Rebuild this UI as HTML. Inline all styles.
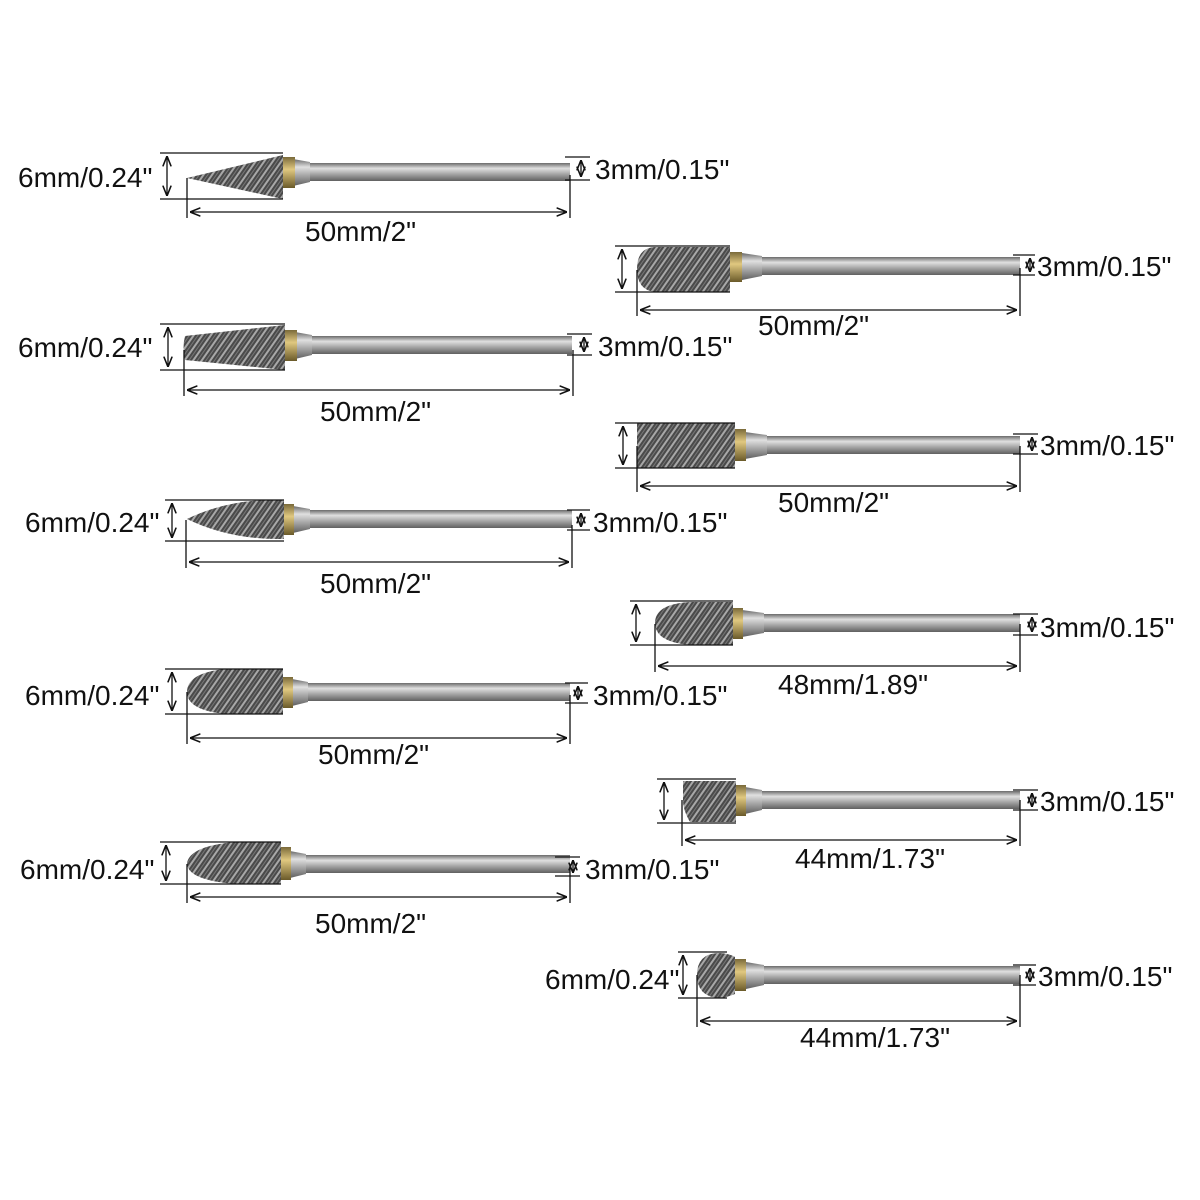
<!DOCTYPE html>
<html><head><meta charset="utf-8"><style>
html,body{margin:0;padding:0;background:#fff;}
svg{display:block}
text{font-family:"Liberation Sans",sans-serif;font-size:28px;fill:#111;}
</style></head><body>
<svg width="1200" height="1200" viewBox="0 0 1200 1200" xmlns="http://www.w3.org/2000/svg">
<defs>
<linearGradient id="sh" x1="0" y1="0" x2="0" y2="1">
<stop offset="0" stop-color="#6a6a6a"/><stop offset="0.3" stop-color="#e0e0e0"/><stop offset="0.6" stop-color="#a8a8a8"/><stop offset="1" stop-color="#606060"/></linearGradient>
<linearGradient id="gd" x1="0" y1="0" x2="0" y2="1">
<stop offset="0" stop-color="#7a6a3a"/><stop offset="0.4" stop-color="#e0c880"/><stop offset="1" stop-color="#6a5a2a"/></linearGradient>
<pattern id="hz" width="7" height="7" patternUnits="userSpaceOnUse" patternTransform="rotate(35)">
<rect width="7" height="7" fill="#4a4a4a"/><rect width="2" height="7" fill="#a8a8a8"/><rect x="4" width="1" height="7" fill="#777"/></pattern>
<marker id="a" viewBox="0 0 10 10" refX="10" refY="5" markerWidth="8" markerHeight="8" orient="auto-start-reverse"><path d="M0,1 L10,5 L0,9" fill="none" stroke="#111" stroke-width="1.5"/></marker>
</defs>

<!-- Burr 1 cone -->
<g>
<rect x="307" y="163" width="263" height="18" fill="url(#sh)"/>
<path d="M293,159 L310,162 L310,182 L293,186Z" fill="url(#sh)"/>
<rect x="283" y="157" width="12" height="31" fill="url(#gd)"/>
<path d="M187,178 L283,155 L283,199 Z" fill="url(#hz)"/>
<g stroke="#111" stroke-width="1.3" fill="none">
<line x1="160" y1="153" x2="283" y2="153"/><line x1="160" y1="199" x2="283" y2="199"/>
<line x1="167" y1="156" x2="167" y2="196" marker-start="url(#a)" marker-end="url(#a)"/>
<line x1="187" y1="178" x2="187" y2="218"/><line x1="570" y1="175" x2="570" y2="218"/>
<line x1="190" y1="212" x2="567" y2="212" marker-start="url(#a)" marker-end="url(#a)"/>
<line x1="565" y1="157" x2="590" y2="157"/><line x1="565" y1="180" x2="590" y2="180"/>
<line x1="581" y1="160" x2="581" y2="177" marker-start="url(#a)" marker-end="url(#a)"/>
</g>
<text x="18" y="187">6mm/0.24"</text><text x="595" y="179">3mm/0.15"</text><text x="305" y="241">50mm/2"</text>
</g>

<!-- Burr 2 taper -->
<g>
<rect x="310" y="336" width="262" height="18" fill="url(#sh)"/>
<path d="M295,332 L312,335 L312,355 L295,359Z" fill="url(#sh)"/>
<rect x="285" y="330" width="12" height="31" fill="url(#gd)"/>
<path d="M185,336 L285,325 L285,370 L185,360 Q182,348 185,336Z" fill="url(#hz)"/>
<g stroke="#111" stroke-width="1.3" fill="none">
<line x1="160" y1="324" x2="285" y2="324"/><line x1="160" y1="370" x2="285" y2="370"/>
<line x1="168" y1="327" x2="168" y2="367" marker-start="url(#a)" marker-end="url(#a)"/>
<line x1="184" y1="350" x2="184" y2="396"/><line x1="573" y1="350" x2="573" y2="396"/>
<line x1="187" y1="390" x2="570" y2="390" marker-start="url(#a)" marker-end="url(#a)"/>
<line x1="567" y1="334" x2="592" y2="334"/><line x1="567" y1="355" x2="592" y2="355"/>
<line x1="584" y1="337" x2="584" y2="352" marker-start="url(#a)" marker-end="url(#a)"/>
</g>
<text x="18" y="357">6mm/0.24"</text><text x="598" y="356">3mm/0.15"</text><text x="320" y="421">50mm/2"</text>
</g>

<!-- Burr 3 flame -->
<g>
<rect x="308" y="510" width="264" height="18" fill="url(#sh)"/>
<path d="M293,506 L310,509 L310,529 L293,533Z" fill="url(#sh)"/>
<rect x="284" y="504" width="10" height="31" fill="url(#gd)"/>
<path d="M187,519 Q230,498 284,500 L284,539 Q230,540 187,519Z" fill="url(#hz)"/>
<g stroke="#111" stroke-width="1.3" fill="none">
<line x1="165" y1="500" x2="284" y2="500"/><line x1="165" y1="541" x2="284" y2="541"/>
<line x1="172" y1="503" x2="172" y2="538" marker-start="url(#a)" marker-end="url(#a)"/>
<line x1="186" y1="520" x2="186" y2="568"/><line x1="572" y1="525" x2="572" y2="568"/>
<line x1="189" y1="562" x2="569" y2="562" marker-start="url(#a)" marker-end="url(#a)"/>
<line x1="567" y1="510" x2="590" y2="510"/><line x1="567" y1="530" x2="590" y2="530"/>
<line x1="581" y1="513" x2="581" y2="527" marker-start="url(#a)" marker-end="url(#a)"/>
</g>
<text x="25" y="532">6mm/0.24"</text><text x="593" y="532">3mm/0.15"</text><text x="320" y="593">50mm/2"</text>
</g>

<!-- Burr 4 oval -->
<g>
<rect x="306" y="683" width="264" height="18" fill="url(#sh)"/>
<path d="M292,679 L308,682 L308,702 L292,706Z" fill="url(#sh)"/>
<rect x="283" y="677" width="10" height="31" fill="url(#gd)"/>
<path d="M283,669 L283,714 L225,714 Q187,710 187,692 Q187,673 225,669Z" fill="url(#hz)"/>
<g stroke="#111" stroke-width="1.3" fill="none">
<line x1="165" y1="669" x2="283" y2="669"/><line x1="165" y1="714" x2="283" y2="714"/>
<line x1="172" y1="672" x2="172" y2="711" marker-start="url(#a)" marker-end="url(#a)"/>
<line x1="187" y1="692" x2="187" y2="744"/><line x1="570" y1="695" x2="570" y2="744"/>
<line x1="190" y1="738" x2="567" y2="738" marker-start="url(#a)" marker-end="url(#a)"/>
<line x1="565" y1="683" x2="588" y2="683"/><line x1="565" y1="703" x2="588" y2="703"/>
<line x1="578" y1="686" x2="578" y2="700" marker-start="url(#a)" marker-end="url(#a)"/>
</g>
<text x="25" y="705">6mm/0.24"</text><text x="593" y="705">3mm/0.15"</text><text x="318" y="764">50mm/2"</text>
</g>

<!-- Burr 5 flame -->
<g>
<rect x="304" y="855" width="266" height="18" fill="url(#sh)"/>
<path d="M290,851 L306,854 L306,874 L290,878Z" fill="url(#sh)"/>
<rect x="281" y="847" width="10" height="33" fill="url(#gd)"/>
<path d="M281,842 L281,884 L235,884 Q187,880 187,863 Q190,846 235,842Z" fill="url(#hz)"/>
<g stroke="#111" stroke-width="1.3" fill="none">
<line x1="160" y1="842" x2="281" y2="842"/><line x1="160" y1="884" x2="281" y2="884"/>
<line x1="166" y1="845" x2="166" y2="881" marker-start="url(#a)" marker-end="url(#a)"/>
<line x1="187" y1="864" x2="187" y2="903"/><line x1="570" y1="866" x2="570" y2="903"/>
<line x1="190" y1="897" x2="567" y2="897" marker-start="url(#a)" marker-end="url(#a)"/>
<line x1="555" y1="857" x2="580" y2="857"/><line x1="555" y1="876" x2="580" y2="876"/>
<line x1="573" y1="860" x2="573" y2="873" marker-start="url(#a)" marker-end="url(#a)"/>
</g>
<text x="20" y="879">6mm/0.24"</text><text x="585" y="879">3mm/0.15"</text><text x="315" y="933">50mm/2"</text>
</g>

<!-- Burr 6 cylinder round end -->
<g>
<rect x="760" y="257" width="260" height="18" fill="url(#sh)"/>
<path d="M742,253 L762,256 L762,276 L742,280Z" fill="url(#sh)"/>
<rect x="730" y="252" width="12" height="30" fill="url(#gd)"/>
<path d="M730,247 L730,292 L655,292 Q637,290 637,269 Q637,248 655,247Z" fill="url(#hz)"/>
<g stroke="#111" stroke-width="1.3" fill="none">
<line x1="615" y1="246" x2="730" y2="246"/><line x1="615" y1="292" x2="730" y2="292"/>
<line x1="622" y1="249" x2="622" y2="289" marker-start="url(#a)" marker-end="url(#a)"/>
<line x1="637" y1="270" x2="637" y2="316"/><line x1="1020" y1="268" x2="1020" y2="316"/>
<line x1="640" y1="310" x2="1017" y2="310" marker-start="url(#a)" marker-end="url(#a)"/>
<line x1="1013" y1="255" x2="1035" y2="255"/><line x1="1013" y1="275" x2="1035" y2="275"/>
<line x1="1030" y1="258" x2="1030" y2="272" marker-start="url(#a)" marker-end="url(#a)"/>
</g>
<text x="1037" y="276">3mm/0.15"</text><text x="758" y="335">50mm/2"</text>
</g>

<!-- Burr 7 cylinder -->
<g>
<rect x="765" y="436" width="255" height="18" fill="url(#sh)"/>
<path d="M745,432 L767,435 L767,455 L745,459Z" fill="url(#sh)"/>
<rect x="735" y="429" width="11" height="32" fill="url(#gd)"/>
<rect x="637" y="423" width="98" height="45" fill="url(#hz)"/>
<g stroke="#111" stroke-width="1.3" fill="none">
<line x1="615" y1="423" x2="735" y2="423"/><line x1="615" y1="468" x2="735" y2="468"/>
<line x1="623" y1="426" x2="623" y2="465" marker-start="url(#a)" marker-end="url(#a)"/>
<line x1="637" y1="446" x2="637" y2="492"/><line x1="1020" y1="446" x2="1020" y2="492"/>
<line x1="640" y1="486" x2="1017" y2="486" marker-start="url(#a)" marker-end="url(#a)"/>
<line x1="1013" y1="434" x2="1038" y2="434"/><line x1="1013" y1="454" x2="1038" y2="454"/>
<line x1="1032" y1="437" x2="1032" y2="451" marker-start="url(#a)" marker-end="url(#a)"/>
</g>
<text x="1040" y="455">3mm/0.15"</text><text x="778" y="512">50mm/2"</text>
</g>

<!-- Burr 8 oval -->
<g>
<rect x="762" y="614" width="258" height="18" fill="url(#sh)"/>
<path d="M742,610 L764,613 L764,633 L742,637Z" fill="url(#sh)"/>
<rect x="733" y="608" width="10" height="31" fill="url(#gd)"/>
<path d="M733,602 L733,645 L690,645 Q655,642 655,623 Q655,604 690,602Z" fill="url(#hz)"/>
<g stroke="#111" stroke-width="1.3" fill="none">
<line x1="630" y1="601" x2="733" y2="601"/><line x1="630" y1="645" x2="733" y2="645"/>
<line x1="636" y1="604" x2="636" y2="642" marker-start="url(#a)" marker-end="url(#a)"/>
<line x1="655" y1="624" x2="655" y2="672"/><line x1="1020" y1="624" x2="1020" y2="672"/>
<line x1="658" y1="666" x2="1017" y2="666" marker-start="url(#a)" marker-end="url(#a)"/>
<line x1="1013" y1="614" x2="1038" y2="614"/><line x1="1013" y1="635" x2="1038" y2="635"/>
<line x1="1032" y1="617" x2="1032" y2="632" marker-start="url(#a)" marker-end="url(#a)"/>
</g>
<text x="1040" y="637">3mm/0.15"</text><text x="778" y="694">48mm/1.89"</text>
</g>

<!-- Burr 9 small cylinder -->
<g>
<rect x="760" y="791" width="260" height="18" fill="url(#sh)"/>
<path d="M745,787 L762,790 L762,810 L745,814Z" fill="url(#sh)"/>
<rect x="736" y="785" width="10" height="31" fill="url(#gd)"/>
<path d="M683,781 L736,781 L736,822 L690,822 Q683,810 683,800Z" fill="url(#hz)"/>
<g stroke="#111" stroke-width="1.3" fill="none">
<line x1="657" y1="779" x2="736" y2="779"/><line x1="657" y1="823" x2="736" y2="823"/>
<line x1="664" y1="782" x2="664" y2="820" marker-start="url(#a)" marker-end="url(#a)"/>
<line x1="682" y1="800" x2="682" y2="846"/><line x1="1020" y1="800" x2="1020" y2="846"/>
<line x1="685" y1="840" x2="1017" y2="840" marker-start="url(#a)" marker-end="url(#a)"/>
<line x1="1013" y1="790" x2="1038" y2="790"/><line x1="1013" y1="810" x2="1038" y2="810"/>
<line x1="1032" y1="793" x2="1032" y2="807" marker-start="url(#a)" marker-end="url(#a)"/>
</g>
<text x="1040" y="811">3mm/0.15"</text><text x="795" y="868">44mm/1.73"</text>
</g>

<!-- Burr 10 ball -->
<g>
<rect x="762" y="966" width="258" height="18" fill="url(#sh)"/>
<path d="M746,962 L764,965 L764,985 L746,989Z" fill="url(#sh)"/>
<rect x="735" y="959" width="11" height="32" fill="url(#gd)"/>
<path d="M735,957 L735,994 Q722,999 718,998 Q697,996 697,975 Q697,954 718,953 Q728,953 735,957Z" fill="url(#hz)"/>
<g stroke="#111" stroke-width="1.3" fill="none">
<line x1="678" y1="952" x2="727" y2="952"/><line x1="678" y1="998" x2="727" y2="998"/>
<line x1="683" y1="955" x2="683" y2="995" marker-start="url(#a)" marker-end="url(#a)"/>
<line x1="697" y1="975" x2="697" y2="1027"/><line x1="1020" y1="975" x2="1020" y2="1027"/>
<line x1="700" y1="1021" x2="1017" y2="1021" marker-start="url(#a)" marker-end="url(#a)"/>
<line x1="1013" y1="965" x2="1036" y2="965"/><line x1="1013" y1="985" x2="1036" y2="985"/>
<line x1="1030" y1="968" x2="1030" y2="982" marker-start="url(#a)" marker-end="url(#a)"/>
</g>
<text x="545" y="989">6mm/0.24"</text><text x="1038" y="986">3mm/0.15"</text><text x="800" y="1047">44mm/1.73"</text>
</g>
</svg>
</body></html>
